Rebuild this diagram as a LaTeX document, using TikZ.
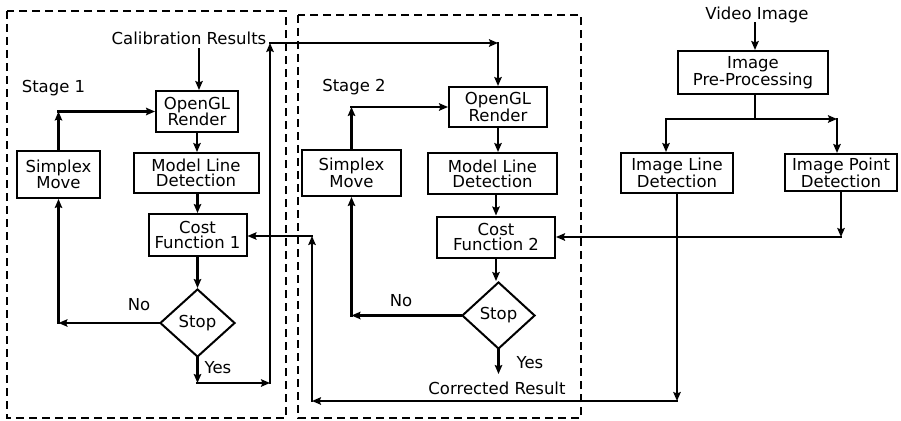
\documentclass[tikz,border=0pt]{standalone}
\usepackage{fontspec}
\setmainfont{DejaVu Sans}
\usetikzlibrary{arrows.meta,shapes.geometric}
\begin{document}
\begin{tikzpicture}[x=1pt,y=-1pt,
  every node/.style={font=\fontsize{16.5}{15}\selectfont},
  blk/.style={draw,line width=2pt,align=center,inner sep=0pt},
  dec/.style={draw,diamond,line width=2pt,inner sep=0pt},
  lbl/.style={anchor=base,inner sep=0pt},
  link/.style={line width=2.6pt,line cap=rect},
  arr/.style={link,-{Stealth[length=9pt,width=7.5pt,inset=1.5pt]}},
  frame/.style={line width=1.7pt,dash pattern=on 8pt off 5pt}]
\useasboundingbox (0,0) rectangle (901,420);

% dashed stage frames
\draw[frame] (7,11) rectangle (286,418);
\draw[frame] (298,15) rectangle (581,418);

% ---------- stage 1 ----------
\node[blk,minimum width=82pt,minimum height=41pt] (ogl1) at (197,111.5) {OpenGL\\Render};
\node[blk,minimum width=125pt,minimum height=40pt] (mld1) at (196,173) {Model Line\\Detection};
\node[blk,minimum width=98pt,minimum height=42pt] (cf1) at (197.5,235) {Cost\\Function 1};
\node[dec,minimum width=75pt,minimum height=68pt] (stop1) at (197.5,323) {Stop};
\node[blk,minimum width=83pt,minimum height=47pt] (sm1) at (58.5,174.5) {Simplex\\Move};

% ---------- stage 2 ----------
\node[blk,minimum width=98pt,minimum height=40pt] (ogl2) at (498,107) {OpenGL\\Render};
\node[blk,minimum width=129pt,minimum height=41pt] (mld2) at (492.5,173.5) {Model Line\\Detection};
\node[blk,minimum width=118pt,minimum height=41pt] (cf2) at (496,237) {Cost\\Function 2};
\node[dec,minimum width=73pt,minimum height=67pt] (stop2) at (498.5,315.5) {Stop};
\node[blk,minimum width=99pt,minimum height=46pt] (sm2) at (351.5,173) {Simplex\\Move};

% ---------- image branch ----------
\node[blk,minimum width=150pt,minimum height=43pt] (prep) at (753,72.5) {Image\\Pre-Processing};
\node[blk,minimum width=112pt,minimum height=40pt] (ild) at (677,173) {Image Line\\Detection};
\node[blk,minimum width=112pt,minimum height=37pt] (ipd) at (841,172.5) {Image Point\\Detection};

% ---------- labels ----------
\node[lbl] (calib) at (189,45) {Calibration Results};
\node[lbl] (video) at (757,20) {Video Image};
\node[lbl] (st1) at (53.5,92) {Stage 1};
\node[lbl] (st2) at (354,91) {Stage 2};
\node[lbl] (no1) at (139,310) {No};
\node[lbl] (no2) at (401,306) {No};
\node[lbl] (yes1) at (218,373) {Yes};
\node[lbl] (yes2) at (530,368) {Yes};
\node[lbl] (corr) at (497,394) {Corrected Result};

% ---------- stage 1 flow ----------
\coordinate (c0) at (199,49);
\draw[arr] (c0) -- (c0 |- ogl1.north);
\draw[arr] (ogl1.south) -- (ogl1.south |- mld1.north);
\draw[arr] (cf1.north |- mld1.south) -- (cf1.north);
\draw[arr] (cf1.south) -- (cf1.south |- stop1.north);
\coordinate (n1) at (sm1.south |- stop1.west);
\draw[arr] (stop1.west) -- (n1);
\draw[arr] (n1) -- (sm1.south);
\coordinate (u1) at (sm1.north |- ogl1.west);
\draw[arr] (sm1.north) -- (u1);
\draw[arr] (u1) -- (ogl1.west);

% stage 1 result feeds stage 2
\coordinate (y1) at (197.5,383);
\coordinate (y2) at (270,383);
\coordinate (y3) at (270,43);
\coordinate (y4) at (498,43);
\draw[arr] (stop1.south) -- (y1);
\draw[arr] (y1) -- (y2);
\draw[arr] (y2) -- (y3);
\draw[arr] (y3) -- (y4);
\draw[arr] (y4) -- (y4 |- ogl2.north);

% ---------- stage 2 flow ----------
\draw[arr] (ogl2.south) -- (ogl2.south |- mld2.north);
\draw[arr] (cf2.north |- mld2.south) -- (cf2.north);
\draw[arr] (cf2.south) -- (cf2.south |- stop2.north);
\coordinate (n2) at (sm2.south |- stop2.west);
\draw[arr] (stop2.west) -- (n2);
\draw[arr] (n2) -- (sm2.south);
\coordinate (u2) at (sm2.north |- ogl2.west);
\draw[arr] (sm2.north) -- (u2);
\draw[arr] (u2) -- (ogl2.west);
\coordinate (res) at (498.5,374);
\draw[arr] (stop2.south) -- (res);

% ---------- image branch flow ----------
\coordinate (v0) at (755,23);
\draw[arr] (v0) -- (v0 |- prep.north);
\coordinate (s1) at (755,119);
\coordinate (s2) at (666,119);
\coordinate (s3) at (837,119);
\draw[link] (s1 |- prep.south) -- (s1);
\draw[link] (s1) -- (s2);
\draw[arr] (s2) -- (s2 |- ild.north);
\draw[arr] (s1) -- (s3);
\draw[arr] (s3) -- (s3 |- ipd.north);

% point detection into cost function 2
\coordinate (p1) at (ipd.south |- cf2.east);
\draw[arr] (ipd.south) -- (p1);
\draw[arr] (p1) -- (cf2.east);

% line detection back into cost function 1
\coordinate (l1) at (677,401);
\coordinate (l2) at (312,401);
\coordinate (l3) at (312,236);
\draw[arr] (ild.south) -- (l1);
\draw[arr] (l1) -- (l2);
\draw[arr] (l2) -- (l3);
\draw[arr] (l3) -- (l3 -| cf1.east);
\end{tikzpicture}
\end{document}
